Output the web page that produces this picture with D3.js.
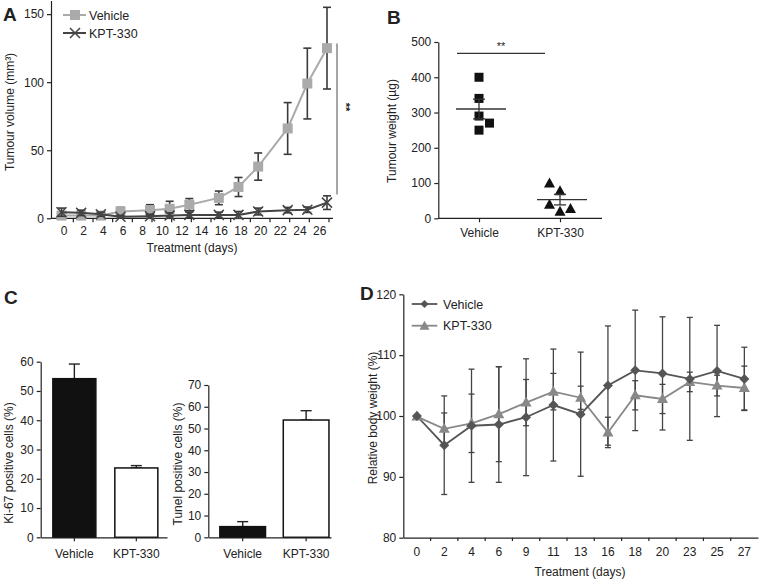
<!DOCTYPE html>
<html><head><meta charset="utf-8">
<script src="https://cdn.jsdelivr.net/npm/d3@7"></script>
<style>
body{margin:0;background:#fff;}
text{font-family:"Liberation Sans",Arial,sans-serif;fill:#222;}
.axis path,.axis line{stroke:#222;stroke-width:1.2;}
.axis text{font-size:12px;fill:#222;}
</style></head><body>
<svg id="chart" width="759" height="580"></svg>
<script>
// ---------- Panel A data ----------
const daysA = [0,2,4,6,9,11,13,16,18,20,23,25,27];
const vehA = [2,2,2,5,6,7,10,15,23,38,66,99,125];
const vehAErr = [2,1.5,1.5,3,4,5.5,4.5,5,7,10,19,26,30];
const kptA = [4.5,4,3,1.2,1.5,2,2.5,2.5,2.5,5,6,6.3,11.5];
const kptAErr = [3,2,1.5,1,1.5,2,2,2,2.5,2.5,2,2,5];
const tickA = [0,2,4,6,8,10,12,14,16,18,20,22,24,26];
const yTicksA = [0,50,100,150];

// ---------- Panel B data ----------
const groupsB = ["Vehicle","KPT-330"];
const vehB = [400,340,290,250,270];
const vehBJitter = [0,0,0,0,1];
const kptB = [100,78,40,20,28];
const kptBJitter = [-1,0,-1,0,1];
const meanB = [310,53];
const semB = [28,15];
const yTicksB = [0,100,200,300,400,500];

// ---------- Panel C data ----------
const groupsC = ["Vehicle","KPT-330"];
const ki67 = [54.2,23.7];
const ki67Err = [5,0.8];
const tunel = [4.9,53.9];
const tunelErr = [2.3,4.3];
const yTicksKi = [0,10,20,30,40,50,60];
const yTicksTu = [0,10,20,30,40,50,60,70];

// ---------- Panel D data ----------
const daysD = ["0","2","4","6","9","11","13","16","18","20","23","25","27"];
const vehD = [100,95.2,98.4,98.6,99.8,101.8,100.3,105,107.5,107,106.1,107.4,106.1];
const vehDErr = [0,8.1,9.3,9.5,9.6,9.2,10.2,9.8,9.9,9.3,10.1,7.5,5.2];
const kptD = [99.9,97.9,98.8,100.3,102.2,104,103,97.3,103.4,102.8,105.6,105,104.6];
const kptDErr = [0,2.6,4.8,7.8,3.8,3,1.9,2.5,2.4,2.4,1.6,1.7,3.6];
const yTicksD = [80,90,100,110,120];

const svg = d3.select("#chart");
const ERR = "#3a3a3a";

function letter(t,x,y){svg.append("text").attr("x",x).attr("y",y).attr("font-size",19).attr("font-weight","bold").attr("fill","#111").text(t);}
function ytitle(t,x,y){svg.append("text").attr("transform",`translate(${x},${y}) rotate(-90)`).attr("text-anchor","middle").attr("font-size",12).text(t);}
function xtitle(t,x,y){svg.append("text").attr("x",x).attr("y",y).attr("text-anchor","middle").attr("font-size",12).text(t);}
function errbar(g,x,y0,y1,cap,col,w){
  g.append("line").attr("x1",x).attr("x2",x).attr("y1",y0).attr("y2",y1).attr("stroke",col).attr("stroke-width",w);
  [y0,y1].forEach(yy=>g.append("line").attr("x1",x-cap).attr("x2",x+cap).attr("y1",yy).attr("y2",yy).attr("stroke",col).attr("stroke-width",w));
}

// ================= Panel A =================
(function(){
  const x = d3.scaleLinear().domain([0,27]).range([61.5,327]);
  const y = d3.scaleLinear().domain([0,160]).range([218.3,0.5]);
  const g = svg.append("g");
  letter("A",3,21);
  g.append("g").attr("class","axis").attr("transform","translate(51,0)")
    .call(d3.axisLeft(y).tickValues(yTicksA).tickSize(4).tickSizeOuter(0).tickPadding(3));
  // x axis line
  g.append("line").attr("x1",51).attr("x2",333).attr("y1",218.3).attr("y2",218.3).attr("stroke","#222").attr("stroke-width",1.2);
  const ax = g.append("g").attr("class","axis").attr("transform","translate(2,218.3)")
    .call(d3.axisBottom(x).tickValues(tickA).tickSize(0).tickPadding(8));
  ax.select(".domain").remove();
  // minor ticks at odd days
  tickA.forEach(d=>{g.append("line").attr("x1",x(d+1)+2).attr("x2",x(d+1)+2).attr("y1",218.3).attr("y2",222.3).attr("stroke","#222").attr("stroke-width",1.2);});
  ytitle("Tumour volume (mm³)",14,112);
  xtitle("Treatment (days)",192,252);
  // vehicle
  const line = d3.line().x((d,i)=>x(daysA[i])).y(d=>y(d));
  g.append("path").datum(vehA).attr("d",line).attr("fill","none").attr("stroke","#aaa").attr("stroke-width",2);
  vehA.forEach((v,i)=>errbar(g,x(daysA[i]),y(v+vehAErr[i]),y(Math.max(0,v-vehAErr[i])),4,ERR,1.6));
  vehA.forEach((v,i)=>g.append("rect").attr("x",x(daysA[i])-5).attr("y",y(v)-5).attr("width",10).attr("height",10).attr("fill","#aaa"));
  // KPT
  g.append("path").datum(kptA).attr("d",line).attr("fill","none").attr("stroke","#444").attr("stroke-width",2);
  kptA.forEach((v,i)=>errbar(g,x(daysA[i]),y(v+kptAErr[i]),y(Math.max(0,v-kptAErr[i])),4,ERR,1.6));
  kptA.forEach((v,i)=>{const cx=x(daysA[i]),cy=y(v);
    g.append("path").attr("d",`M${cx-5},${cy-5}L${cx+5},${cy+5}M${cx-5},${cy+5}L${cx+5},${cy-5}`).attr("stroke","#444").attr("stroke-width",1.5);});
  // significance
  g.append("line").attr("x1",337).attr("x2",337).attr("y1",y(groupsSig=128.5)).attr("y2",y(17.5)).attr("stroke","#888").attr("stroke-width",1.5);
  svg.append("text").attr("transform","translate(342,107) rotate(90)").attr("text-anchor","middle").attr("font-size",11).attr("font-weight","bold").text("**");
  // legend
  g.append("line").attr("x1",63).attr("x2",86).attr("y1",15).attr("y2",15).attr("stroke","#aaa").attr("stroke-width",2);
  g.append("rect").attr("x",70).attr("y",10).attr("width",10).attr("height",10).attr("fill","#aaa");
  g.append("text").attr("x",89).attr("y",19.5).attr("font-size",12.5).text("Vehicle");
  g.append("line").attr("x1",63).attr("x2",86).attr("y1",33).attr("y2",33).attr("stroke","#444").attr("stroke-width",2);
  g.append("path").attr("d","M70,28L80,38M70,38L80,28").attr("stroke","#444").attr("stroke-width",1.5);
  g.append("text").attr("x",89).attr("y",37.5).attr("font-size",12.5).text("KPT-330");
})();
var groupsSig;

// ================= Panel B =================
(function(){
  const x = d3.scalePoint().domain(groupsB).range([479,560]);
  const y = d3.scaleLinear().domain([0,500]).range([218.3,42]);
  const g = svg.append("g");
  letter("B",387,24);
  g.append("g").attr("class","axis").attr("transform","translate(438.3,0)")
    .call(d3.axisLeft(y).tickValues(yTicksB).tickSize(4).tickSizeOuter(0).tickPadding(3));
  g.append("line").attr("x1",438.3).attr("x2",602).attr("y1",218.3).attr("y2",218.3).attr("stroke","#222").attr("stroke-width",1.2);
  const ax = g.append("g").attr("class","axis").attr("transform","translate(0,218.3)")
    .call(d3.axisBottom(x).tickSize(4).tickPadding(6));
  ax.select(".domain").remove();
  ytitle("Tumour weight (µg)",396,131);
  const step = 10.5;
  vehB.forEach((v,i)=>g.append("rect").attr("x",x("Vehicle")+vehBJitter[i]*step-4.5).attr("y",y(v)-4.5).attr("width",9).attr("height",9).attr("fill","#111"));
  kptB.forEach((v,i)=>{const cx=x("KPT-330")+kptBJitter[i]*step,cy=y(v);
    g.append("path").attr("d",`M${cx},${cy-5.5}L${cx+5.5},${cy+4.5}L${cx-5.5},${cy+4.5}Z`).attr("fill","#111");});
  groupsB.forEach((k,i)=>{
    g.append("line").attr("x1",x(k)-23).attr("x2",x(k)+27).attr("y1",y(meanB[i])).attr("y2",y(meanB[i])).attr("stroke","#333").attr("stroke-width",1.3);
    errbar(g,x(k),y(meanB[i]+semB[i]),y(meanB[i]-semB[i]),6,"#333",1.3);
  });
  g.append("line").attr("x1",457).attr("x2",545).attr("y1",y(468)).attr("y2",y(468)).attr("stroke","#333").attr("stroke-width",1.2);
  g.append("text").attr("x",501).attr("y",y(468)-3).attr("text-anchor","middle").attr("font-size",11).text("**");
})();

// ================= Panel C =================
(function(){
  letter("C",4,304);
  // left
  const x1 = d3.scaleBand().domain(groupsC).range([40.7,167]).paddingInner(0.306).paddingOuter(0.172).align(0.57);
  const y1 = d3.scaleLinear().domain([0,60]).range([537.3,361.7]);
  const g = svg.append("g");
  g.append("g").attr("class","axis").attr("transform","translate(40.7,0)")
    .call(d3.axisLeft(y1).tickValues(yTicksKi).tickSize(4).tickSizeOuter(0).tickPadding(3));
  groupsC.forEach((k,i)=>errbar(g,x1(k)+x1.bandwidth()/2,y1(ki67[i]+ki67Err[i]),y1(ki67[i]),5.5,"#222",1.4));
  groupsC.forEach((k,i)=>g.append("rect").attr("x",x1(k)).attr("y",y1(ki67[i])).attr("width",x1.bandwidth()).attr("height",y1(0)-y1(ki67[i]))
    .attr("fill",i==0?"#111":"#fff").attr("stroke","#111").attr("stroke-width",1.5));
  g.append("g").attr("class","axis").attr("transform","translate(0,537.3)")
    .call(d3.axisBottom(x1).tickSize(4).tickSizeOuter(0).tickPadding(8));
  ytitle("Ki-67 positive cells (%)",13,463);
  // right
  const x2 = d3.scaleBand().domain(groupsC).range([208.3,331]).paddingInner(0.28).paddingOuter(0.107).align(0.85);
  const y2 = d3.scaleLinear().domain([0,70]).range([537.3,385]);
  g.append("g").attr("class","axis").attr("transform","translate(208.3,0)")
    .call(d3.axisLeft(y2).tickValues(yTicksTu).tickSize(4).tickSizeOuter(0).tickPadding(3));
  groupsC.forEach((k,i)=>errbar(g,x2(k)+x2.bandwidth()/2,y2(tunel[i]+tunelErr[i]),y2(tunel[i]),5.5,"#222",1.4));
  groupsC.forEach((k,i)=>g.append("rect").attr("x",x2(k)).attr("y",y2(tunel[i])).attr("width",x2.bandwidth()).attr("height",y2(0)-y2(tunel[i]))
    .attr("fill",i==0?"#111":"#fff").attr("stroke","#111").attr("stroke-width",1.5));
  g.append("g").attr("class","axis").attr("transform","translate(0,537.3)")
    .call(d3.axisBottom(x2).tickSize(4).tickSizeOuter(0).tickPadding(8));
  ytitle("Tunel positive cells (%)",182,464);
})();

// ================= Panel D =================
(function(){
  letter("D",360,300);
  const x = d3.scaleBand().domain(daysD).range([403.3,758]);
  const y = d3.scaleLinear().domain([80,120]).range([537.7,294.3]);
  const g = svg.append("g");
  g.append("g").attr("class","axis").attr("transform","translate(403.3,0)")
    .call(d3.axisLeft(y).tickValues(yTicksD).tickSize(4).tickSizeOuter(0).tickPadding(3));
  const ax = g.append("g").attr("class","axis").attr("transform","translate(0,537.7)")
    .call(d3.axisBottom(x).tickSize(0).tickPadding(10));
  daysD.slice(1).forEach(d=>g.append("line").attr("x1",x(d)).attr("x2",x(d)).attr("y1",537.7).attr("y2",541).attr("stroke","#222").attr("stroke-width",1.2));
  ytitle("Relative body weight (%)",377,418);
  xtitle("Treatment (days)",580,576);
  const cx = d=>x(d)+x.bandwidth()/2;
  const line = d3.line().x((v,i)=>cx(daysD[i])).y(v=>y(v));
  vehD.forEach((v,i)=>{if(vehDErr[i]>0)errbar(g,cx(daysD[i]),y(v+vehDErr[i]),y(v-vehDErr[i]),3,"#444",1.3);});
  kptD.forEach((v,i)=>{if(kptDErr[i]>0)errbar(g,cx(daysD[i]),y(v+kptDErr[i]),y(v-kptDErr[i]),3,"#444",1.3);});
  g.append("path").datum(kptD).attr("d",line).attr("fill","none").attr("stroke","#888").attr("stroke-width",1.8);
  g.append("path").datum(vehD).attr("d",line).attr("fill","none").attr("stroke","#555").attr("stroke-width",1.8);
  kptD.forEach((v,i)=>{const px=cx(daysD[i]),py=y(v);
    g.append("path").attr("d",`M${px},${py-6}L${px+5.5},${py+4}L${px-5.5},${py+4}Z`).attr("fill","#888");});
  vehD.forEach((v,i)=>{const px=cx(daysD[i]),py=y(v);
    g.append("path").attr("d",`M${px},${py-5}L${px+5},${py}L${px},${py+5}L${px-5},${py}Z`).attr("fill","#555");});
  // legend
  g.append("line").attr("x1",411.7).attr("x2",437.3).attr("y1",304).attr("y2",304).attr("stroke","#555").attr("stroke-width",1.8);
  g.append("path").attr("d","M424.5,300L428.5,304L424.5,308L420.5,304Z").attr("fill","#555");
  g.append("text").attr("x",443).attr("y",308.5).attr("font-size",12.5).text("Vehicle");
  g.append("line").attr("x1",411.7).attr("x2",437.3).attr("y1",325.7).attr("y2",325.7).attr("stroke","#888").attr("stroke-width",1.8);
  g.append("path").attr("d","M424.5,320.7L429.5,329.7L419.5,329.7Z").attr("fill","#888");
  g.append("text").attr("x",443).attr("y",330).attr("font-size",12.5).text("KPT-330");
})();
</script>
</body></html>
